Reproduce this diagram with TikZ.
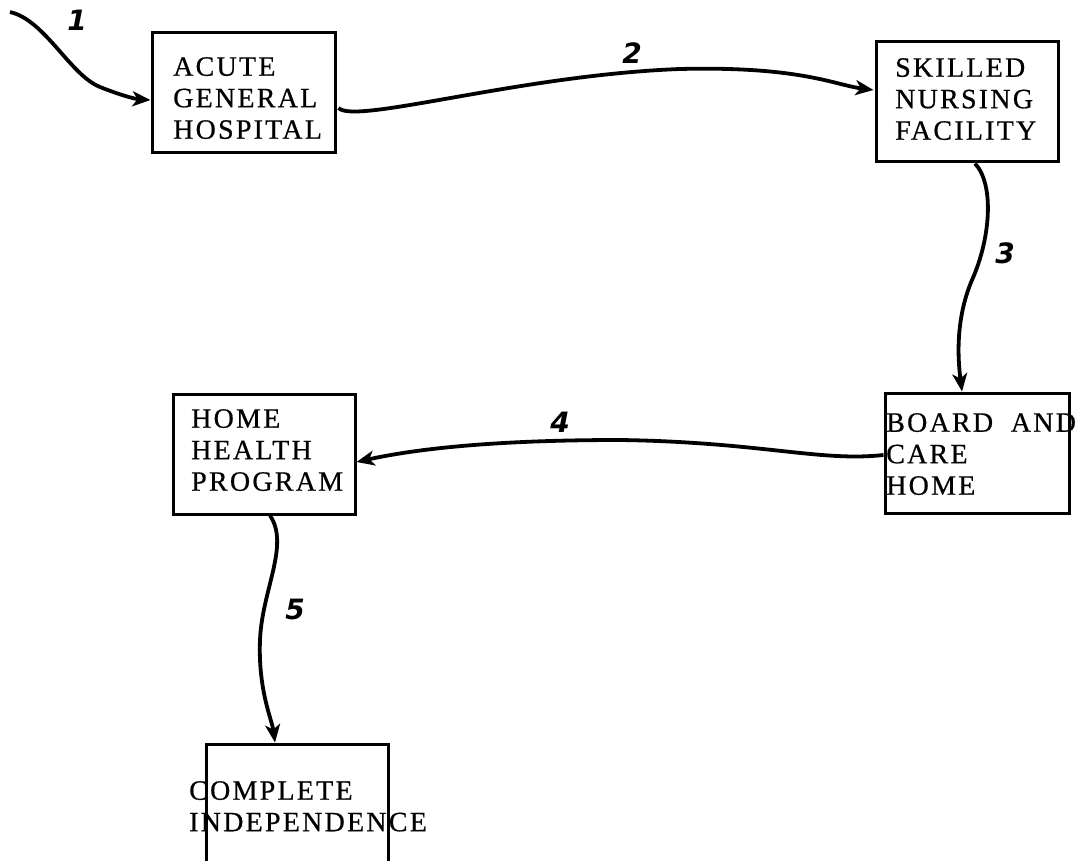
\documentclass[tikz,border=0pt]{standalone}
\usepackage{fontspec}
\usetikzlibrary{arrows.meta,calc}
\newfontfamily\boxfont[LetterSpace=8,FakeBold=0.6]{Liberation Serif}
\newfontfamily\handfont{DejaVu Sans}
\begin{document}
\begin{tikzpicture}[x=1pt,y=-1pt,
  box/.style={draw,line width=3pt,rectangle,minimum width=#1,minimum height=120pt,inner sep=0pt},
  lbl/.style={anchor=north west,inner sep=0pt,align=left,font=\boxfont\fontsize{28}{31.5}\selectfont},
  num/.style={font=\handfont\bfseries\itshape\fontsize{28}{28}\selectfont,inner sep=0pt},
  flow/.style={line width=3.8pt,-{Stealth[length=18pt,width=15pt,inset=5pt]}}]
\clip (0,0) rectangle (1082,861);
\fill[white] (0,0) rectangle (1082,861);
% boxes
\node[box=183pt] (acute) at (243.5,93) {};
\node[box=182pt] (snf) at (967,102) {};
\node[box=184pt] (board) at (977,453) {};
\node[box=182pt] (hhp) at (264,454) {};
\node[box=182pt] (ci) at (297,804) {};
% texts
\node[lbl] (acutetxt) at (173,57) {ACUTE\\GENERAL\\HOSPITAL};
\node[lbl] (snftxt) at (895,58) {SKILLED\\NURSING\\FACILITY};
\node[lbl] (boardtxt) at (886,413) {BOARD\hspace{0.3em} AND\\CARE\\HOME};
\node[lbl] (hhptxt) at (191,409) {HOME\\HEALTH\\PROGRAM};
\node[lbl] (citxt) at (189,781) {COMPLETE\\INDEPENDENCE};
% connectors
\coordinate (in1) at (10,12);
\draw[flow] (in1) .. controls (45,20) and (70,75) .. (100,87) .. controls (120,95) and (135,99) .. ($(acute.west)+(0,7)$);
\draw[flow] ($(acute.east)+(2,15)$) .. controls (355,125) and (520,75) .. (680,69) .. controls (800,66) and (835,85) .. ($(snf.west)+(-1,-12)$);
\draw[flow] ($(snf.south)+(8,0)$) .. controls (995,185) and (990,240) .. (972,280) .. controls (955,320) and (958,360) .. ($(board.north)+(-15,0)$);
\draw[flow] ($(board.west)+(0,2)$) .. controls (820,462) and (760,442) .. (620,440) .. controls (500,440) and (420,448) .. ($(hhp.east)+(0,8)$);
\draw[flow] ($(hhp.south)+(6,0)$) .. controls (290,545) and (262,590) .. (260,640) .. controls (258,690) and (272,720) .. ($(ci.north)+(-22,0)$);
% labels
\node[num] (n1) at (77,20) {1};
\node[num] (n2) at (632,53) {2};
\node[num] (n3) at (1005,253) {3};
\node[num] (n4) at (560,422) {4};
\node[num] (n5) at (295,609) {5};
\end{tikzpicture}
\end{document}
